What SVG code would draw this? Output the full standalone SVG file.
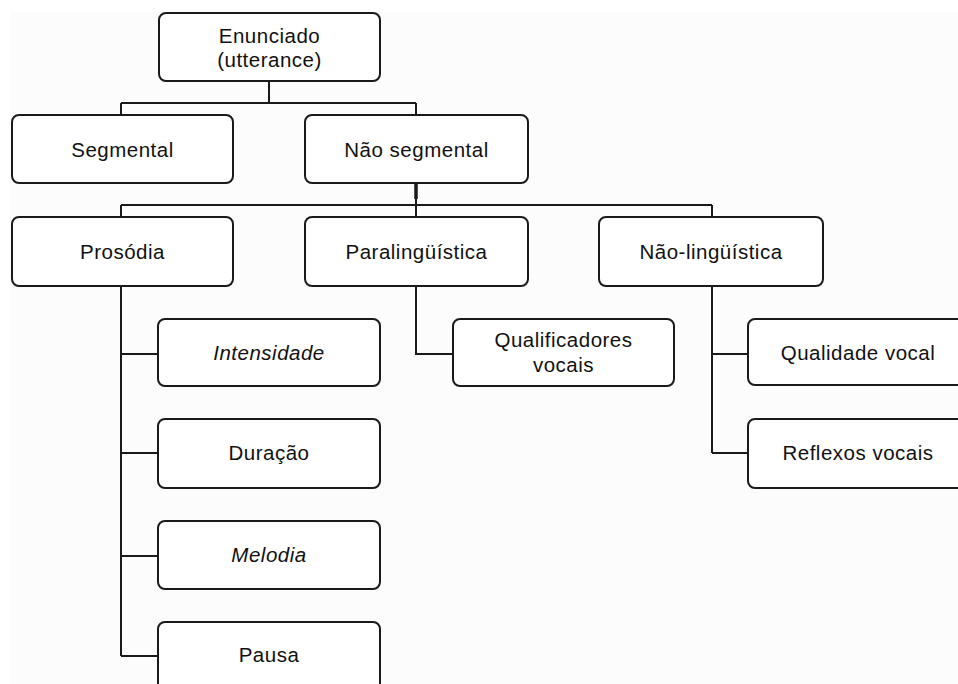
<svg xmlns="http://www.w3.org/2000/svg" width="958" height="684" viewBox="0 0 958 684">
<style>
.box{fill:#ffffff;stroke:#1a1a1a;stroke-width:2}
.ln{fill:none;stroke:#1a1a1a;stroke-width:2}
text{font-family:"Liberation Sans",Arial,sans-serif;font-size:20.5px;fill:#111;text-anchor:middle;letter-spacing:0.5px}
.it{font-style:italic}
</style>
<rect x="0" y="0" width="958" height="684" fill="#ffffff"/>
<rect x="10" y="12" width="948" height="672" fill="#fcfcfc"/>
<g id="connectors">
<path class="ln" d="M269,81 V103 M121,103 H416 M121,103 V115 M416,103 V115"/>
<path class="ln" d="M416,183 V205 M121,205 H712 M121,205 V217 M416,205 V217 M712,205 V217"/>
<path d="M416,183 V199" stroke="#1a1a1a" stroke-width="3.5" fill="none"/>
<path class="ln" d="M121,286 V656 M121,354 H158 M121,453 H158 M121,556 H158 M121,656 H158"/>
<path class="ln" d="M416,286 V354 H453"/>
<path class="ln" d="M712,286 V453 M712,354 H748 M712,453 H748"/>
</g>
<g id="enunciado"><rect class="box" x="159" y="13" width="221" height="68" rx="7"/><text x="269.5" y="43">Enunciado</text><text x="269.5" y="67">(utterance)</text></g>
<g id="segmental"><rect class="box" x="12" y="115" width="221" height="68" rx="7"/><text x="122.5" y="157">Segmental</text></g>
<g id="nao-segmental"><rect class="box" x="305" y="115" width="223" height="68" rx="7"/><text x="416.5" y="157">Não segmental</text></g>
<g id="prosodia"><rect class="box" x="12" y="217" width="221" height="69" rx="7"/><text x="122.5" y="258.5">Prosódia</text></g>
<g id="paralinguistica"><rect class="box" x="305" y="217" width="223" height="69" rx="7"/><text x="416.5" y="258.5">Paralingüística</text></g>
<g id="nao-linguistica"><rect class="box" x="599" y="217" width="224" height="69" rx="7"/><text x="711" y="258.5">Não-lingüística</text></g>
<g id="intensidade"><rect class="box" x="158" y="319" width="222" height="67" rx="7"/><text class="it" x="269" y="360">Intensidade</text></g>
<g id="duracao"><rect class="box" x="158" y="419" width="222" height="69" rx="7"/><text x="269" y="460">Duração</text></g>
<g id="melodia"><rect class="box" x="158" y="521" width="222" height="68" rx="7"/><text class="it" x="269" y="562">Melodia</text></g>
<g id="pausa"><rect class="box" x="158" y="622" width="222" height="90" rx="7"/><text x="269" y="662">Pausa</text></g>
<g id="qualificadores"><rect class="box" x="453" y="319" width="221" height="67" rx="7"/><text x="563.5" y="347">Qualificadores</text><text x="563.5" y="372">vocais</text></g>
<g id="qualidade-vocal"><rect class="box" x="748" y="319" width="222" height="66" rx="7"/><text x="858" y="359.5">Qualidade vocal</text></g>
<g id="reflexos-vocais"><rect class="box" x="748" y="419" width="222" height="69" rx="7"/><text x="858" y="460">Reflexos vocais</text></g>
</svg>
